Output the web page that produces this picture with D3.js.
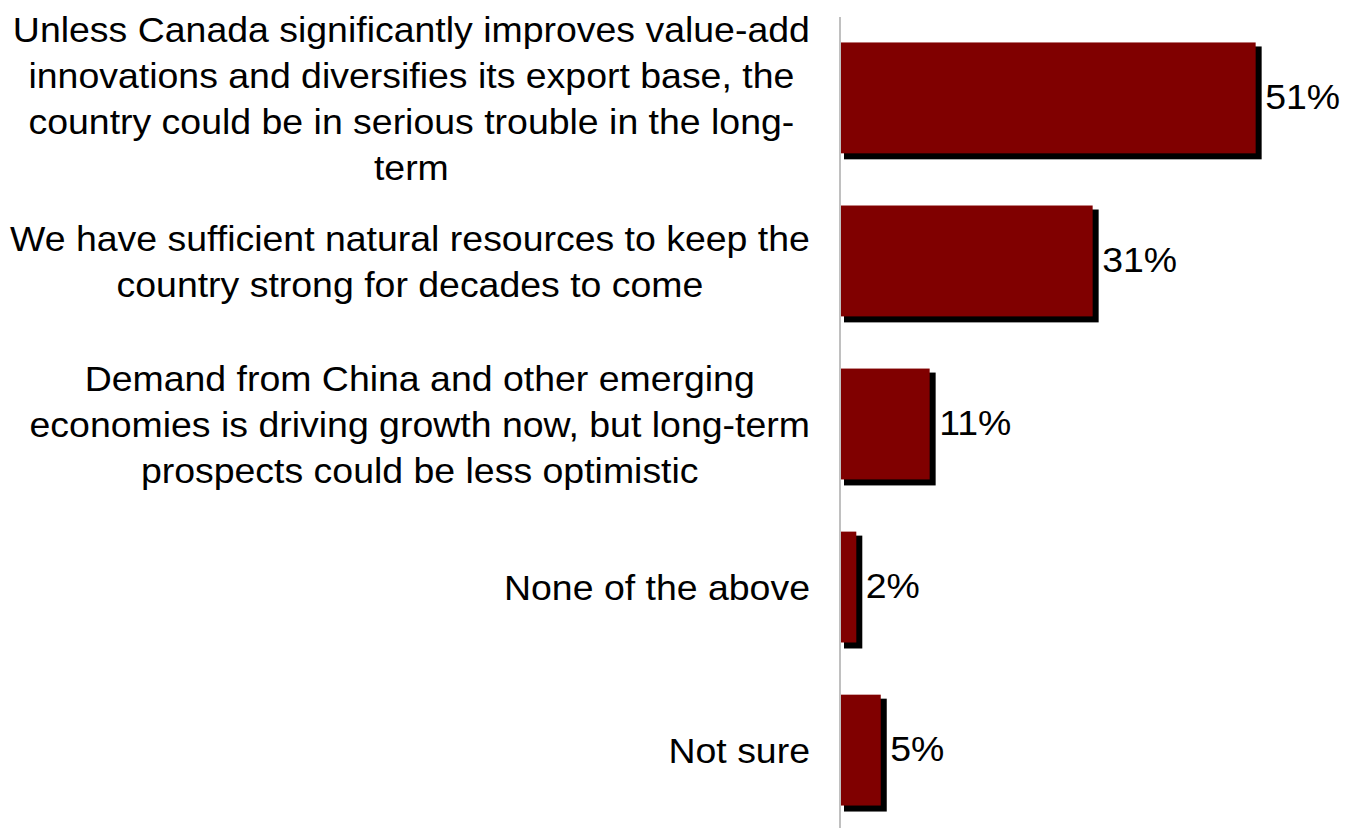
<!DOCTYPE html>
<html>
<head>
<meta charset="utf-8">
<script src="https://cdn.jsdelivr.net/npm/d3@7"></script>
<style>
  html, body { margin: 0; padding: 0; background: #ffffff; }
  svg { display: block; }
  text { font-family: "Liberation Sans", Arial, Helvetica, sans-serif; fill: #000; }
</style>
</head>
<body>
<svg id="chart" width="1349" height="828"></svg>
<script>
// Survey answers (each entry is the list of lines of its wrapped label)
const categories = [
  ["Unless Canada significantly improves value-add",
   "innovations and diversifies its export base, the",
   "country could be in serious trouble in the long-",
   "term"],
  ["We have sufficient natural resources to keep the",
   "country strong for decades to come"],
  ["Demand from China and other emerging",
   "economies is driving growth now, but long-term",
   "prospects could be less optimistic"],
  ["None of the above"],
  ["Not sure"]
];
const values = [51, 31, 11, 2, 5];
const valueLabels = ["51%", "31%", "11%", "2%", "5%"];

const W = 1349, H = 828;
const svg = d3.select("#chart");

const keys = categories.map((c, i) => i);

const x = d3.scaleLinear().domain([0, 60]).range([840, 840 + 489]);
const y = d3.scaleBand().domain(keys).range([18, 830])
  .paddingInner(0.32).paddingOuter(0.15);

const fontSize = 35;
const stretch = 1.07;     // text is set slightly wide
const lineH = 46;

// shadows
svg.append("g").selectAll("rect").data(keys).join("rect")
  .attr("x", i => x(0) + 4)
  .attr("y", i => y(i) + 4)
  .attr("width", i => x(values[i]) - x(0) + 2)
  .attr("height", y.bandwidth() + 2)
  .attr("fill", "#000000");

// bars
svg.append("g").selectAll("rect").data(keys).join("rect")
  .attr("x", x(0))
  .attr("y", i => y(i))
  .attr("width", i => x(values[i]) - x(0))
  .attr("height", y.bandwidth())
  .attr("fill", "#800000");

// category axis line
svg.append("line")
  .attr("x1", x(0)).attr("x2", x(0))
  .attr("y1", 17).attr("y2", H)
  .attr("stroke", "#c0c0c0").attr("stroke-width", 2);

// value labels
svg.append("g").selectAll("text").data(keys).join("text")
  .attr("transform", i => `translate(${x(values[i]) + 9.5},${y(i) + y.bandwidth() / 2 + 11}) scale(${stretch},1)`)
  .attr("font-size", fontSize)
  .text(i => valueLabels[i]);

// category labels: lines centred in a block whose right edge sits left of the axis
const labelRight = 810;
const labels = svg.append("g").selectAll("g").data(keys).join("g");
labels.each(function (i) {
  const g = d3.select(this);
  const lines = categories[i];
  const n = lines.length;
  const t = g.append("text")
    .attr("font-size", fontSize)
    .attr("text-anchor", "middle");
  lines.forEach((ln, k) => {
    t.append("tspan")
      .attr("x", 0)
      .attr("y", 13 + (k - (n - 1) / 2) * lineH)
      .text(ln);
  });
  let maxW = 0;
  t.selectAll("tspan").each(function () {
    maxW = Math.max(maxW, this.getComputedTextLength());
  });
  const cx = labelRight - maxW * stretch / 2;
  g.attr("transform", `translate(${cx},${y(i) + y.bandwidth() / 2}) scale(${stretch},1)`);
});
</script>
</body>
</html>
